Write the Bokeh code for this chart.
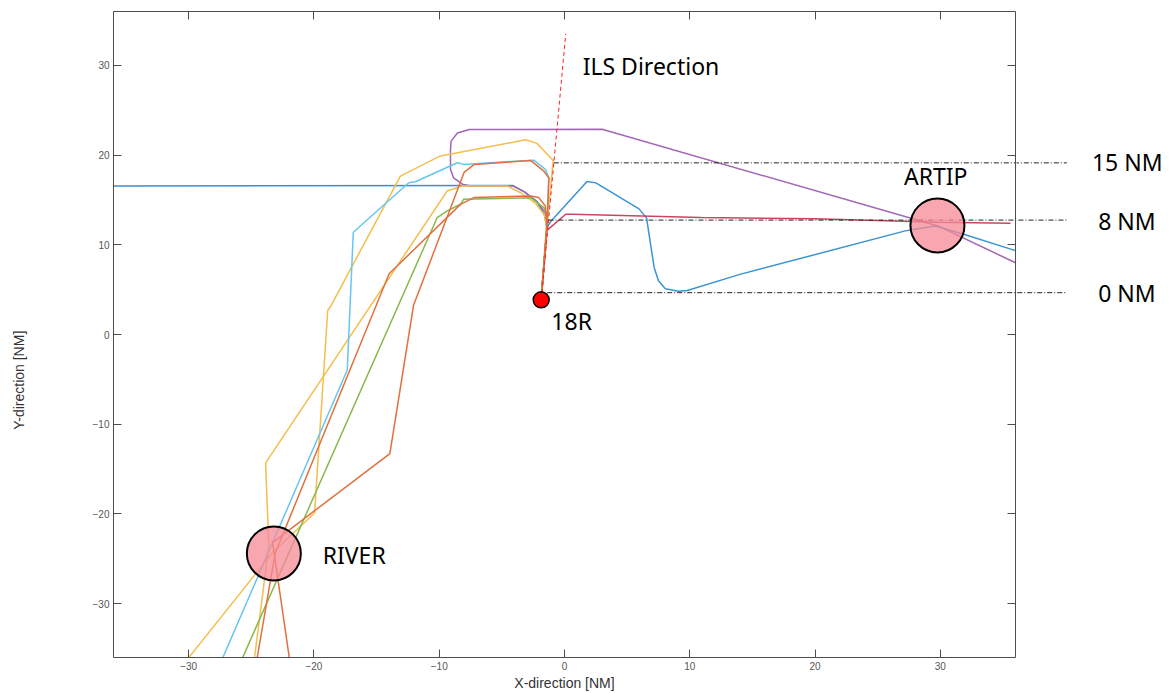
from bokeh.plotting import figure
from bokeh.layouts import row
from bokeh.models import Range1d, LinearAxis, FixedTicker, Label, CustomLabelingPolicy
from bokeh.embed import file_html
from bokeh.resources import INLINE

# ---------------- data (NM) ----------------
blue_w_x = [-36.0, -4.1, -3.2, -2.2, -1.6, -1.4, -1.84]
blue_w_y = [16.55, 16.6, 15.9, 14.8, 13.3, 11.9, 4.3]

purple_x = [36.0, 29.8, 3.0, -7.6, -8.55, -9.05, -9.1, -9.1, -8.85, -8.15, -7.5, -4.1, -3.2, -2.2, -1.5, -1.4, -1.84]
purple_y = [8.0, 12.1, 22.87, 22.85, 22.45, 21.55, 20.6, 18.4, 17.45, 16.75, 16.55, 16.55, 15.9, 14.8, 13.5, 11.9, 4.3]

blue_e_x = [36.0, 31.8, 29.6, 27.2, 14.0, 9.8, 9.1, 8.05, 7.5, 7.15, 6.55, 5.95, 2.5, 1.8, -1.1, -1.4, -1.84]
blue_e_y = [9.35, 11.2, 12.1, 11.55, 6.7, 4.9, 4.83, 5.1, 6.0, 7.5, 13.0, 14.0, 16.9, 17.05, 12.6, 11.9, 4.3]

red_x = [35.6, 29.8, 20.0, 10.9, 0.6, 0.1, -1.4, -1.84]
red_y = [12.4, 12.5, 12.9, 13.05, 13.4, 13.4, 11.6, 4.3]

yellow_a_x = [-30.1, -23.3, -19.95, -18.9, -18.7, -13.1, -9.9, -3.1, -2.2, -0.9, -1.4, -1.84]
yellow_a_y = [-36.2, -24.3, -19.9, 2.7, 3.06, 17.66, 19.9, 21.7, 21.3, 19.4, 11.9, 4.3]

yellow_b_x = [-24.76, -23.6, -23.86, -9.36, -8.16, -4.57, -3.5, -2.3, -1.6, -1.4, -1.84]
yellow_b_y = [-36.2, -23.55, -14.3, 16.0, 16.55, 16.55, 15.8, 14.6, 13.3, 11.9, 4.3]

lightblue_x = [-27.33, -17.34, -16.86, -16.28, -12.43, -11.9, -8.56, -8.04, -2.45, -1.52, -1.25, -1.4, -1.84]
lightblue_y = [-36.2, -3.96, 11.37, 12.12, 16.92, 17.03, 19.14, 18.96, 19.43, 18.4, 17.47, 11.9, 4.3]

green_x = [-25.75, -10.16, -9.36, -8.3, -8.04, -2.71, -1.65, -1.38, -1.84]
green_y = [-36.2, 13.04, 13.78, 14.52, 15.08, 15.25, 14.15, 13.23, 4.3]

orange_a_x = [-24.55, -23.1, -14.0, -8.3, -7.24, -2.71, -2.05, -1.52, -1.4, -1.84]
orange_a_y = [-36.2, -24.4, 6.77, 14.5, 15.26, 15.44, 15.26, 14.3, 11.9, 4.3]

orange_c_x = [-21.95, -23.3, -13.94, -12.05, -8.0, -7.2, -2.71, -1.65, -1.25, -1.4, -1.84]
orange_c_y = [-36.2, -23.2, -13.27, 3.25, 18.1, 18.96, 19.4, 18.2, 17.47, 11.9, 4.3]

ils_x = [-1.86, 0.1]
ils_y = [3.86, 33.5]

waypoint_names = ["ARTIP", "RIVER"]
waypoint_x = [29.77, -23.2]
waypoint_y = [12.15, -24.4]

runway_name = "18R"
runway_x = [-1.86]
runway_y = [3.86]

dist_names = ["15 NM", "8 NM", "0 NM"]
dist_y = [19.13, 12.75, 4.66]
dist_x_start = [-0.85, -1.28, -1.38]
dist_x_end = [40.1, 40.1, 40.1]

ticks = [-30, -20, -10, 0, 10, 20, 30]

# ---------------- layout constants ----------------
H = 693
TOP, BOTTOM = 11, 34
LEFT_W, MAIN_W, RIGHT_W = 60, 956, 153
PX_PER_NM = 902 / 72.0

p = figure(width=MAIN_W, height=H, x_range=Range1d(-36, 36), y_range=Range1d(-36, 36),
           output_backend="svg", toolbar_location=None,
           min_border_left=113 - LEFT_W, min_border_right=1,
           min_border_top=TOP, min_border_bottom=BOTTOM)
p.grid.visible = False
p.outline_line_color = None

AX_COL = "#4d4d4d"
hide_labels = CustomLabelingPolicy(code="for (const i of indices) indices.unset(i)")

def style_axis(ax, show_labels):
    ax.ticker = FixedTicker(ticks=ticks)
    ax.axis_line_color = AX_COL
    ax.axis_line_width = 1
    ax.major_tick_line_color = AX_COL
    ax.major_tick_in = 8
    ax.major_tick_out = 0
    ax.minor_tick_line_color = None
    ax.major_label_text_font = "Liberation Sans"
    ax.major_label_text_color = "#555555"
    if show_labels:
        ax.major_label_text_font_size = "10px"
        ax.major_label_standoff = 4
    else:
        ax.major_label_text_font_size = "0px"
        ax.major_label_standoff = 0
        ax.major_label_policy = hide_labels

style_axis(p.xaxis[0], True)
style_axis(p.yaxis[0], True)
p.xaxis[0].axis_label = "X-direction [NM]"
p.xaxis[0].axis_label_text_font = "Liberation Sans"
p.xaxis[0].axis_label_text_font_size = "14px"
p.xaxis[0].axis_label_text_font_style = "normal"
p.xaxis[0].axis_label_text_color = "#333333"
p.xaxis[0].axis_label_standoff = 2

top_ax = LinearAxis()
style_axis(top_ax, False)
p.add_layout(top_ax, "above")
right_ax = LinearAxis()
style_axis(right_ax, False)
p.add_layout(right_ax, "right")

# trajectories
LW = 1.5
trajs = [
    (blue_w_x, blue_w_y, "#3a8fd0"),
    (purple_x, purple_y, "#a366b5"),
    (blue_e_x, blue_e_y, "#3a93d3"),
    (red_x, red_y, "#c8475f"),
    (yellow_a_x, yellow_a_y, "#f3be4c"),
    (yellow_b_x, yellow_b_y, "#f3be4c"),
    (lightblue_x, lightblue_y, "#66c6ef"),
    (green_x, green_y, "#86b84a"),
    (orange_a_x, orange_a_y, "#e2703f"),
    (orange_c_x, orange_c_y, "#e2703f"),
]
for xs, ys, c in trajs:
    p.line(xs, ys, line_color=c, line_width=LW)

# ILS direction
p.line(ils_x, ils_y, line_color="#ff2020", line_width=1, line_dash="4 3")

# distance reference lines
DASH = "5 2 1 2"
p.segment(x0=dist_x_start, y0=dist_y, x1=dist_x_end, y1=dist_y,
          line_color="#222222", line_width=1, line_dash=DASH)

# waypoints (semi-transparent so tracks show through) and runway
p.scatter(waypoint_x, waypoint_y, size=54, marker="circle", fill_color="#f68896",
          fill_alpha=0.75, line_color="black", line_width=2)
p.scatter(runway_x, runway_y, size=16, marker="circle", fill_color="#ff0000",
          line_color="black", line_width=1.5)

FONT = "Noto Sans"
FS = "23px"
def lab(fig, x, y, t):
    fig.add_layout(Label(x=x, y=y, text=t, text_font=FONT, text_font_size=FS,
                         text_align="left", text_baseline="middle", text_color="black"))

lab(p, 1.45, 29.9, "ILS Direction")
lab(p, -1.05, 1.55, runway_name)
lab(p, 27.1, 17.7, waypoint_names[0])
lab(p, -19.3, -24.55, waypoint_names[1])

# ---------------- right strip (continuation beyond the axes box) ----------------
x_lo = 36 + 1 / PX_PER_NM
pr = figure(width=RIGHT_W, height=H, x_range=Range1d(x_lo, x_lo + RIGHT_W / PX_PER_NM),
            y_range=Range1d(-36, 36), output_backend="svg", toolbar_location=None,
            x_axis_location=None, y_axis_location=None,
            min_border_left=0, min_border_right=0, min_border_top=TOP, min_border_bottom=BOTTOM)
pr.grid.visible = False
pr.outline_line_color = None
pr.segment(x0=dist_x_start, y0=dist_y, x1=dist_x_end, y1=dist_y,
           line_color="#222222", line_width=1, line_dash=DASH)
lab(pr, 42.1, 19.25, dist_names[0])
lab(pr, 42.6, 12.68, dist_names[1])
lab(pr, 42.6, 4.68, dist_names[2])

# ---------------- left strip (y-axis title) ----------------
pl = figure(width=LEFT_W, height=H, x_range=Range1d(0, LEFT_W), y_range=Range1d(-36, 36),
            output_backend="svg", toolbar_location=None,
            x_axis_location=None, y_axis_location=None,
            min_border_left=0, min_border_right=0, min_border_top=TOP, min_border_bottom=BOTTOM)
pl.grid.visible = False
pl.outline_line_color = None
pl.add_layout(Label(x=18, y=-5.1, text="Y-direction [NM]", angle=90, angle_units="deg",
                    text_align="center", text_baseline="middle", text_font="Liberation Sans",
                    text_font_size="14px", text_color="#333333"))

layout = row(pl, p, pr)
open("out.html", "w").write(file_html(layout, INLINE))
